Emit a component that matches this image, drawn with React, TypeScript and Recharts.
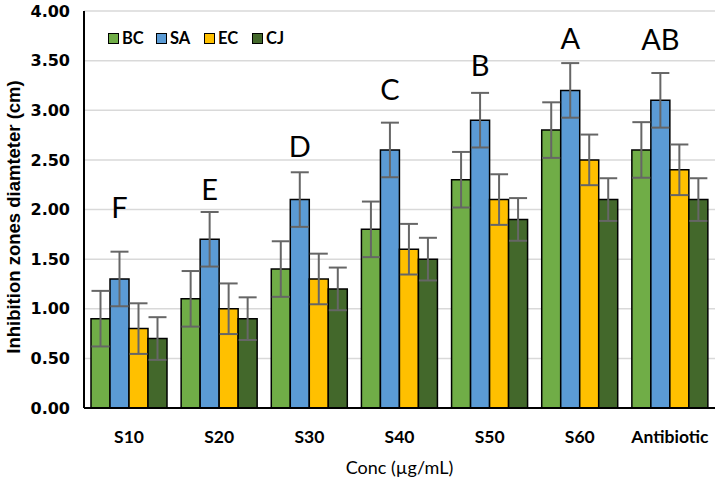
import React from 'react';
import { ComposedChart, Bar, XAxis, YAxis, CartesianGrid, ErrorBar, LabelList } from 'recharts';

const categories = ['S10', 'S20', 'S30', 'S40', 'S50', 'S60', 'Antibiotic'];
const bcValues = [0.9, 1.1, 1.4, 1.8, 2.3, 2.8, 2.6];
const saValues = [1.3, 1.7, 2.1, 2.6, 2.9, 3.2, 3.1];
const ecValues = [0.8, 1.0, 1.3, 1.6, 2.1, 2.5, 2.4];
const cjValues = [0.7, 0.9, 1.2, 1.5, 1.9, 2.1, 2.1];
const bcErrors = [0.28, 0.28, 0.28, 0.28, 0.28, 0.28, 0.28];
const saErrors = [0.275, 0.275, 0.275, 0.275, 0.275, 0.275, 0.275];
const ecErrors = [0.255, 0.255, 0.255, 0.255, 0.255, 0.255, 0.255];
const cjErrors = [0.215, 0.215, 0.215, 0.215, 0.215, 0.215, 0.215];
const groupLetters = ['F', 'E', 'D', 'C', 'B', 'A', 'AB'];
const letterLevels = [1.91, 2.1, 2.53, 3.1, 3.35, 3.62, 3.61];
const yTicks = [0, 0.5, 1, 1.5, 2, 2.5, 3, 3.5, 4];

const series = [
  { key: 'BC', color: '#70ad47', values: bcValues, errors: bcErrors },
  { key: 'SA', color: '#5b9bd5', values: saValues, errors: saErrors },
  { key: 'EC', color: '#ffc000', values: ecValues, errors: ecErrors },
  { key: 'CJ', color: '#43682b', values: cjValues, errors: cjErrors },
];

const data = categories.map((c, i) => {
  const row: any = { name: c, letter: groupLetters[i] };
  series.forEach((s) => {
    row[s.key] = s.values[i];
    row[s.key + 'err'] = s.errors[i];
  });
  return row;
});

const LetterLabel = (props: any) => {
  const { x, y, width, height, value } = props;
  const idx = groupLetters.indexOf(value);
  if (idx < 0) return null;
  const v = saValues[idx];
  const bottom = Number(y) + Number(height);
  const pxPerUnit = Number(height) / v;
  const ty = bottom - letterLevels[idx] * pxPerUnit;
  return (
    <text
      x={Number(x) + Number(width) / 2}
      y={ty}
      textAnchor="middle"
      fontFamily="Lato, 'Noto Sans', sans-serif"
      fontSize={29}
      fill="#000"
    >
      {value}
    </text>
  );
};

const YTitle = () => {
  const cx = 13;
  const cy = 217;
  return (
    <text
      x={cx}
      y={cy}
      transform={`rotate(-90, ${cx}, ${cy})`}
      textAnchor="middle"
      dominantBaseline="central"
      fontFamily="'Liberation Sans', Arial, sans-serif"
      fontWeight="bold"
      fontSize={18.5}
      fill="#000"
    >
      Inhibition zones diamteter (cm)
    </text>
  );
};

export default function App() {
  return (
    <div style={{ position: 'absolute', left: 0, top: 0, width: 719, height: 481, background: '#fff' }}>
      <ComposedChart
        width={719}
        height={481}
        data={data}
        margin={{ top: 11, right: 4, bottom: 0, left: 0 }}
        barCategoryGap={7}
        barGap={0}
      >
        <CartesianGrid vertical={false} stroke="#d9d9d9" strokeWidth={1.5} />
        <XAxis
          dataKey="name"
          height={73}
          tickLine={false}
          tickSize={0}
          tickMargin={23}
          axisLine={{ stroke: '#000', strokeWidth: 2 }}
          tick={{ fill: '#000', fontSize: 17.5, fontWeight: 'bold', fontFamily: 'Lato, sans-serif' }}
          label={{
            value: 'Conc (µg/mL)',
            position: 'insideBottom',
            offset: 7,
            fill: '#000',
            fontSize: 18,
            fontFamily: 'Lato, sans-serif',
          }}
        />
        <XAxis xAxisId="top" dataKey="name" orientation="top" height={0} tick={false} tickLine={false} axisLine={{ stroke: '#000', strokeWidth: 2 }} />
        <YAxis
          domain={[0, 4]}
          ticks={yTicks}
          width={84}
          tickLine={false}
          tickSize={0}
          tickMargin={14}
          interval={0}
          axisLine={{ stroke: '#000', strokeWidth: 2 }}
          tickFormatter={(v: number) => v.toFixed(2)}
          tick={{ fill: '#000', fontSize: 16, fontWeight: 'bold', fontFamily: "'DejaVu Sans', sans-serif" }}
        />
        <YAxis yAxisId="right" orientation="right" domain={[0, 4]} width={0} tick={false} tickLine={false} axisLine={{ stroke: '#000', strokeWidth: 2 }} />
        {series.map((s) => (
          <Bar key={s.key} dataKey={s.key} fill={s.color} stroke="#000" strokeWidth={1.5} isAnimationActive={false}>
            <ErrorBar dataKey={s.key + 'err'} width={9} stroke="#666" strokeWidth={2} direction="y" />
            {s.key === 'SA' ? <LabelList dataKey="letter" content={<LetterLabel />} /> : null}
          </Bar>
        ))}
      </ComposedChart>
      <svg style={{ position: 'absolute', left: 0, top: 0, pointerEvents: 'none' }} width={30} height={481}>
        <YTitle />
      </svg>
      <div
        style={{
          position: 'absolute',
          left: 108,
          top: 30,
          display: 'flex',
          alignItems: 'center',
          fontFamily: 'Lato, sans-serif',
          fontWeight: 'bold',
          fontSize: 16.5,
          color: '#000',
        }}
      >
        {series.map((s) => (
          <div key={s.key} style={{ display: 'flex', alignItems: 'center', width: 48 }}>
            <div style={{ width: 9, height: 9, background: s.color, border: '1px solid #000' }} />
            <span style={{ marginLeft: 3, lineHeight: '17px' }}>{s.key}</span>
          </div>
        ))}
      </div>
    </div>
  );
}
